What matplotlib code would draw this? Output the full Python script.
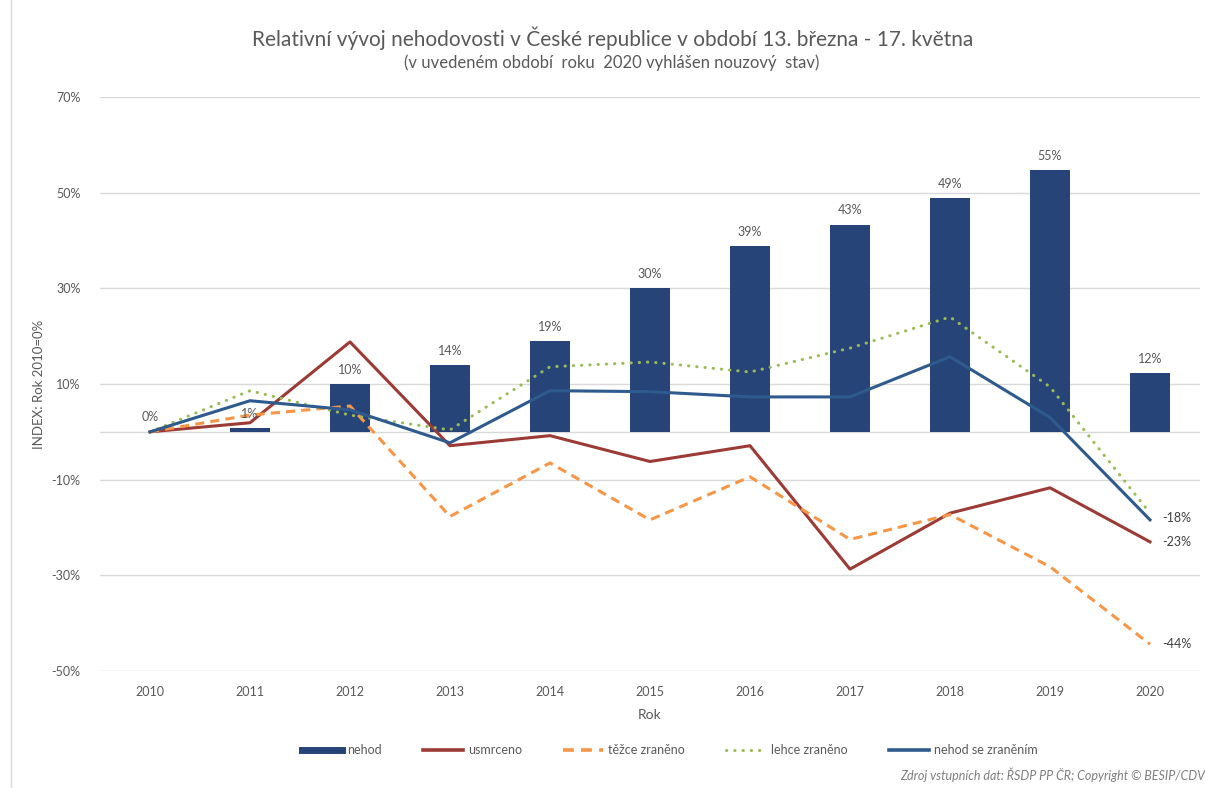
import numpy as np
import matplotlib
matplotlib.use("Agg")
import matplotlib.pyplot as plt
from matplotlib.lines import Line2D
from matplotlib.ticker import FuncFormatter

plt.rcParams['font.family'] = ['Lato', 'DejaVu Sans']

# data (relative change vs 2010)
years = [2010, 2011, 2012, 2013, 2014, 2015, 2016, 2017, 2018, 2019, 2020]
nehod = [0.0, 0.7, 10.0, 14.0, 19.0, 30.0, 38.8, 43.3, 48.8, 54.7, 12.2]
bar_labels = ["0%", "1%", "10%", "14%", "19%", "30%", "39%", "43%", "49%", "55%", "12%"]
usmrceno = [0.0, 1.9, 18.8, -2.9, -0.8, -6.2, -2.9, -28.7, -17.0, -11.7, -23.0]
tezce = [0.0, 3.5, 5.4, -17.7, -6.5, -18.4, -9.4, -22.5, -17.3, -28.2, -44.4]
lehce = [0.0, 8.6, 3.5, 0.4, 13.6, 14.6, 12.5, 17.5, 24.0, 9.4, -17.0]
se_zranenim = [0.0, 6.5, 4.6, -2.3, 8.6, 8.4, 7.3, 7.3, 15.7, 3.0, -18.4]
end_labels = [("-18%", -18.0), ("-23%", -23.0), ("-44%", -44.4)]

c_bar = '#264478'
c_red = '#9C3A36'
c_orange = '#F79646'
c_green = '#9BBB59'
c_blue = '#2E5A8E'
c_text = '#595959'

fig = plt.figure(figsize=(12.05, 7.88), dpi=100)
ax = fig.add_axes([100 / 1205, 1 - 671 / 788, 1100 / 1205, 574 / 788])

x = np.arange(len(years))
ax.bar(x, nehod, width=0.4, color=c_bar, zorder=2)
ax.plot(x, usmrceno, color=c_red, lw=2.2, zorder=3)
ax.plot(x, tezce, color=c_orange, lw=2.2, ls=(0, (3, 2)), zorder=3)
ax.plot(x, lehce, color=c_green, lw=2.2, ls=(0, (0.1, 2.6)), dash_capstyle='round', zorder=3)
ax.plot(x, se_zranenim, color=c_blue, lw=2.2, zorder=3)

for xi, v, lab in zip(x, nehod, bar_labels):
    ax.annotate(lab, (xi, v), xytext=(0, 6), textcoords='offset points',
                ha='center', va='bottom', fontsize=9, color=c_text)
for lab, v in end_labels:
    ax.annotate(lab, (x[-1], v), xytext=(9, 0), textcoords='offset points',
                ha='left', va='center', fontsize=9, color='#404040')

ax.set_xlim(-0.5, len(years) - 0.5)
ax.set_ylim(-50, 70)
ax.set_yticks([-50, -30, -10, 10, 30, 50, 70])
ax.yaxis.set_major_formatter(FuncFormatter(lambda v, p: f"{v:.0f}%"))
ax.set_xticks(x)
ax.set_xticklabels([str(y) for y in years])
ax.tick_params(length=0, labelsize=9, colors=c_text)
ax.tick_params(axis='y', pad=14)
ax.tick_params(axis='x', pad=11)
ax.grid(axis='y', color='#D9D9D9', lw=1, zorder=0)
ax.axhline(0, color='#D9D9D9', lw=1, zorder=1)
for s in ax.spines.values():
    s.set_visible(False)

ax.set_xlabel("Rok", fontsize=10, color=c_text, labelpad=8)
ax.set_ylabel("INDEX: Rok 2010=0%", fontsize=9.5, color=c_text)
ax.yaxis.set_label_coords(-55 / 1100, 0.5)

fig.text(0.508, 1 - 38 / 788, "Relativní vývoj nehodovosti v České republice v období 13. března - 17. května",
         ha='center', va='center', fontsize=15, color=c_text)
fig.text(0.508, 1 - 63 / 788, "(v uvedeném období  roku  2020 vyhlášen nouzový  stav)",
         ha='center', va='center', fontsize=12, color=c_text)

handles = [
    Line2D([], [], color=c_bar, lw=5),
    Line2D([], [], color=c_red, lw=2.6),
    Line2D([], [], color=c_orange, lw=2.6, ls=(0, (3, 2))),
    Line2D([], [], color=c_green, lw=2.2, ls=(0, (0.1, 2.6)), dash_capstyle='round'),
    Line2D([], [], color=c_blue, lw=2.6),
]
names = ["nehod", "usmrceno", "těžce zraněno", "lehce zraněno", "nehod se zraněním"]
fig.legend(handles, names, loc='center', bbox_to_anchor=(0.556, 1 - 750 / 788), ncol=5,
           frameon=False, fontsize=9, handlelength=3.2, columnspacing=3.3,
           handletextpad=0.4, labelcolor=c_text)

fig.text(1.0, 1 - 775 / 788, "Zdroj vstupních dat: ŘSDP PP ČR; Copyright © BESIP/CDV",
         ha='right', va='center', fontsize=9, style='italic', color='#7F7F7F')
fig.add_artist(Line2D([11 / 1205, 11 / 1205], [0, 1], color='#D9D9D9', lw=1))

fig.savefig("out.png", dpi=100)
